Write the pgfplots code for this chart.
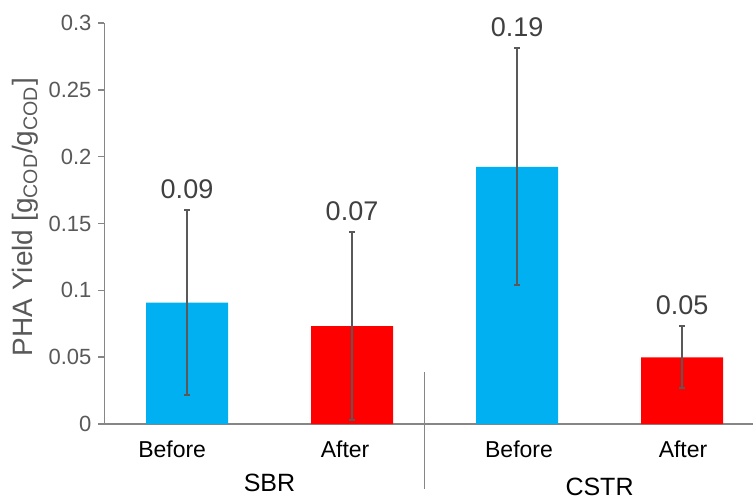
\documentclass[border=0pt]{standalone}
\usepackage{pgfplots}
\pgfplotsset{compat=1.18}
\usepackage{fontspec}
\setmainfont{Liberation Sans}
\definecolor{barblue}{HTML}{00B0F0}
\definecolor{barred}{HTML}{FF0000}
\definecolor{ticktext}{HTML}{595959}
\definecolor{valtext}{HTML}{404040}
\definecolor{axgray}{HTML}{868686}
\definecolor{errgray}{HTML}{595959}
\begin{document}
\begin{tikzpicture}
\begin{axis}[
  at={(0,0)}, anchor=south west,
  scale only axis,
  width=324.25pt, height=200.5pt,
  xmin=-0.5, xmax=3.43,
  ymin=0, ymax=0.3,
  axis x line=bottom, axis y line=left,
  axis line style={-, draw=axgray, line width=0.7pt},
  xtick={-0.09,0.958,2.012,3.006},
  xticklabels={Before,After,Before,After},
  x tick style={draw=none},
  xticklabel style={font=\fontsize{11.5}{13}\selectfont, text=black, anchor=center, yshift=-9.5pt},
  ytick={0,0.05,0.1,0.15,0.2,0.25,0.3},
  yticklabels={0,0.05,0.1,0.15,0.2,0.25,0.3},
  y tick style={draw=axgray, line width=0.7pt},
  tick align=outside,
  major tick length=3pt,
  yticklabel style={font=\fontsize{11}{13}\selectfont, text=ticktext},
  ylabel={PHA Yield [g\textsubscript{COD}/g\textsubscript{COD}]},
  ylabel style={font=\fontsize{14}{16}\selectfont, text=ticktext, at={(axis description cs:-0.1218,0.516)}, anchor=center},
  clip=false,
  error bars/y dir=both, error bars/y explicit,
  error bars/error bar style={draw=errgray, line width=1pt},
  error bars/error mark options={draw=errgray, line width=1pt, rotate=90, mark size=1.5pt},
]
% Before (blue)
\addplot[ybar, bar width=41pt, bar shift=0pt, fill=barblue, draw=none]
  coordinates {(0,0.0908) +- (0,0.0692) (2,0.1924) +- (0,0.0887)};
% After (red)
\addplot[ybar, bar width=41pt, bar shift=0pt, fill=barred, draw=none]
  coordinates {(1,0.0733) +- (0,0.0702) (3,0.0499) +- (0,0.0233)};
% value labels above error bars
\addplot[draw=none, mark=none, nodes near coords, point meta=explicit symbolic,
  nodes near coords style={anchor=center, yshift=10.5pt, text=valtext, font=\fontsize{13.5}{15}\selectfont}]
  coordinates {(0,0.160)[0.09] (1,0.1435)[0.07] (2,0.2811)[0.19] (3,0.0732)[0.05]};
% separator and group labels
\draw[axgray, line width=0.6pt] ([yshift=26pt]axis cs:1.44,0) -- ([yshift=-32.5pt]axis cs:1.44,0);
\node[font=\fontsize{12.5}{14}\selectfont, text=black] at ([yshift=-29.5pt]axis cs:0.5,0) {SBR};
\node[font=\fontsize{12.5}{14}\selectfont, text=black] at ([yshift=-31.5pt]axis cs:2.5,0) {CSTR};
\end{axis}
\pgfresetboundingbox
\useasboundingbox (-52.25pt,-37pt) rectangle (324.25pt,212pt);
\end{tikzpicture}
\end{document}
